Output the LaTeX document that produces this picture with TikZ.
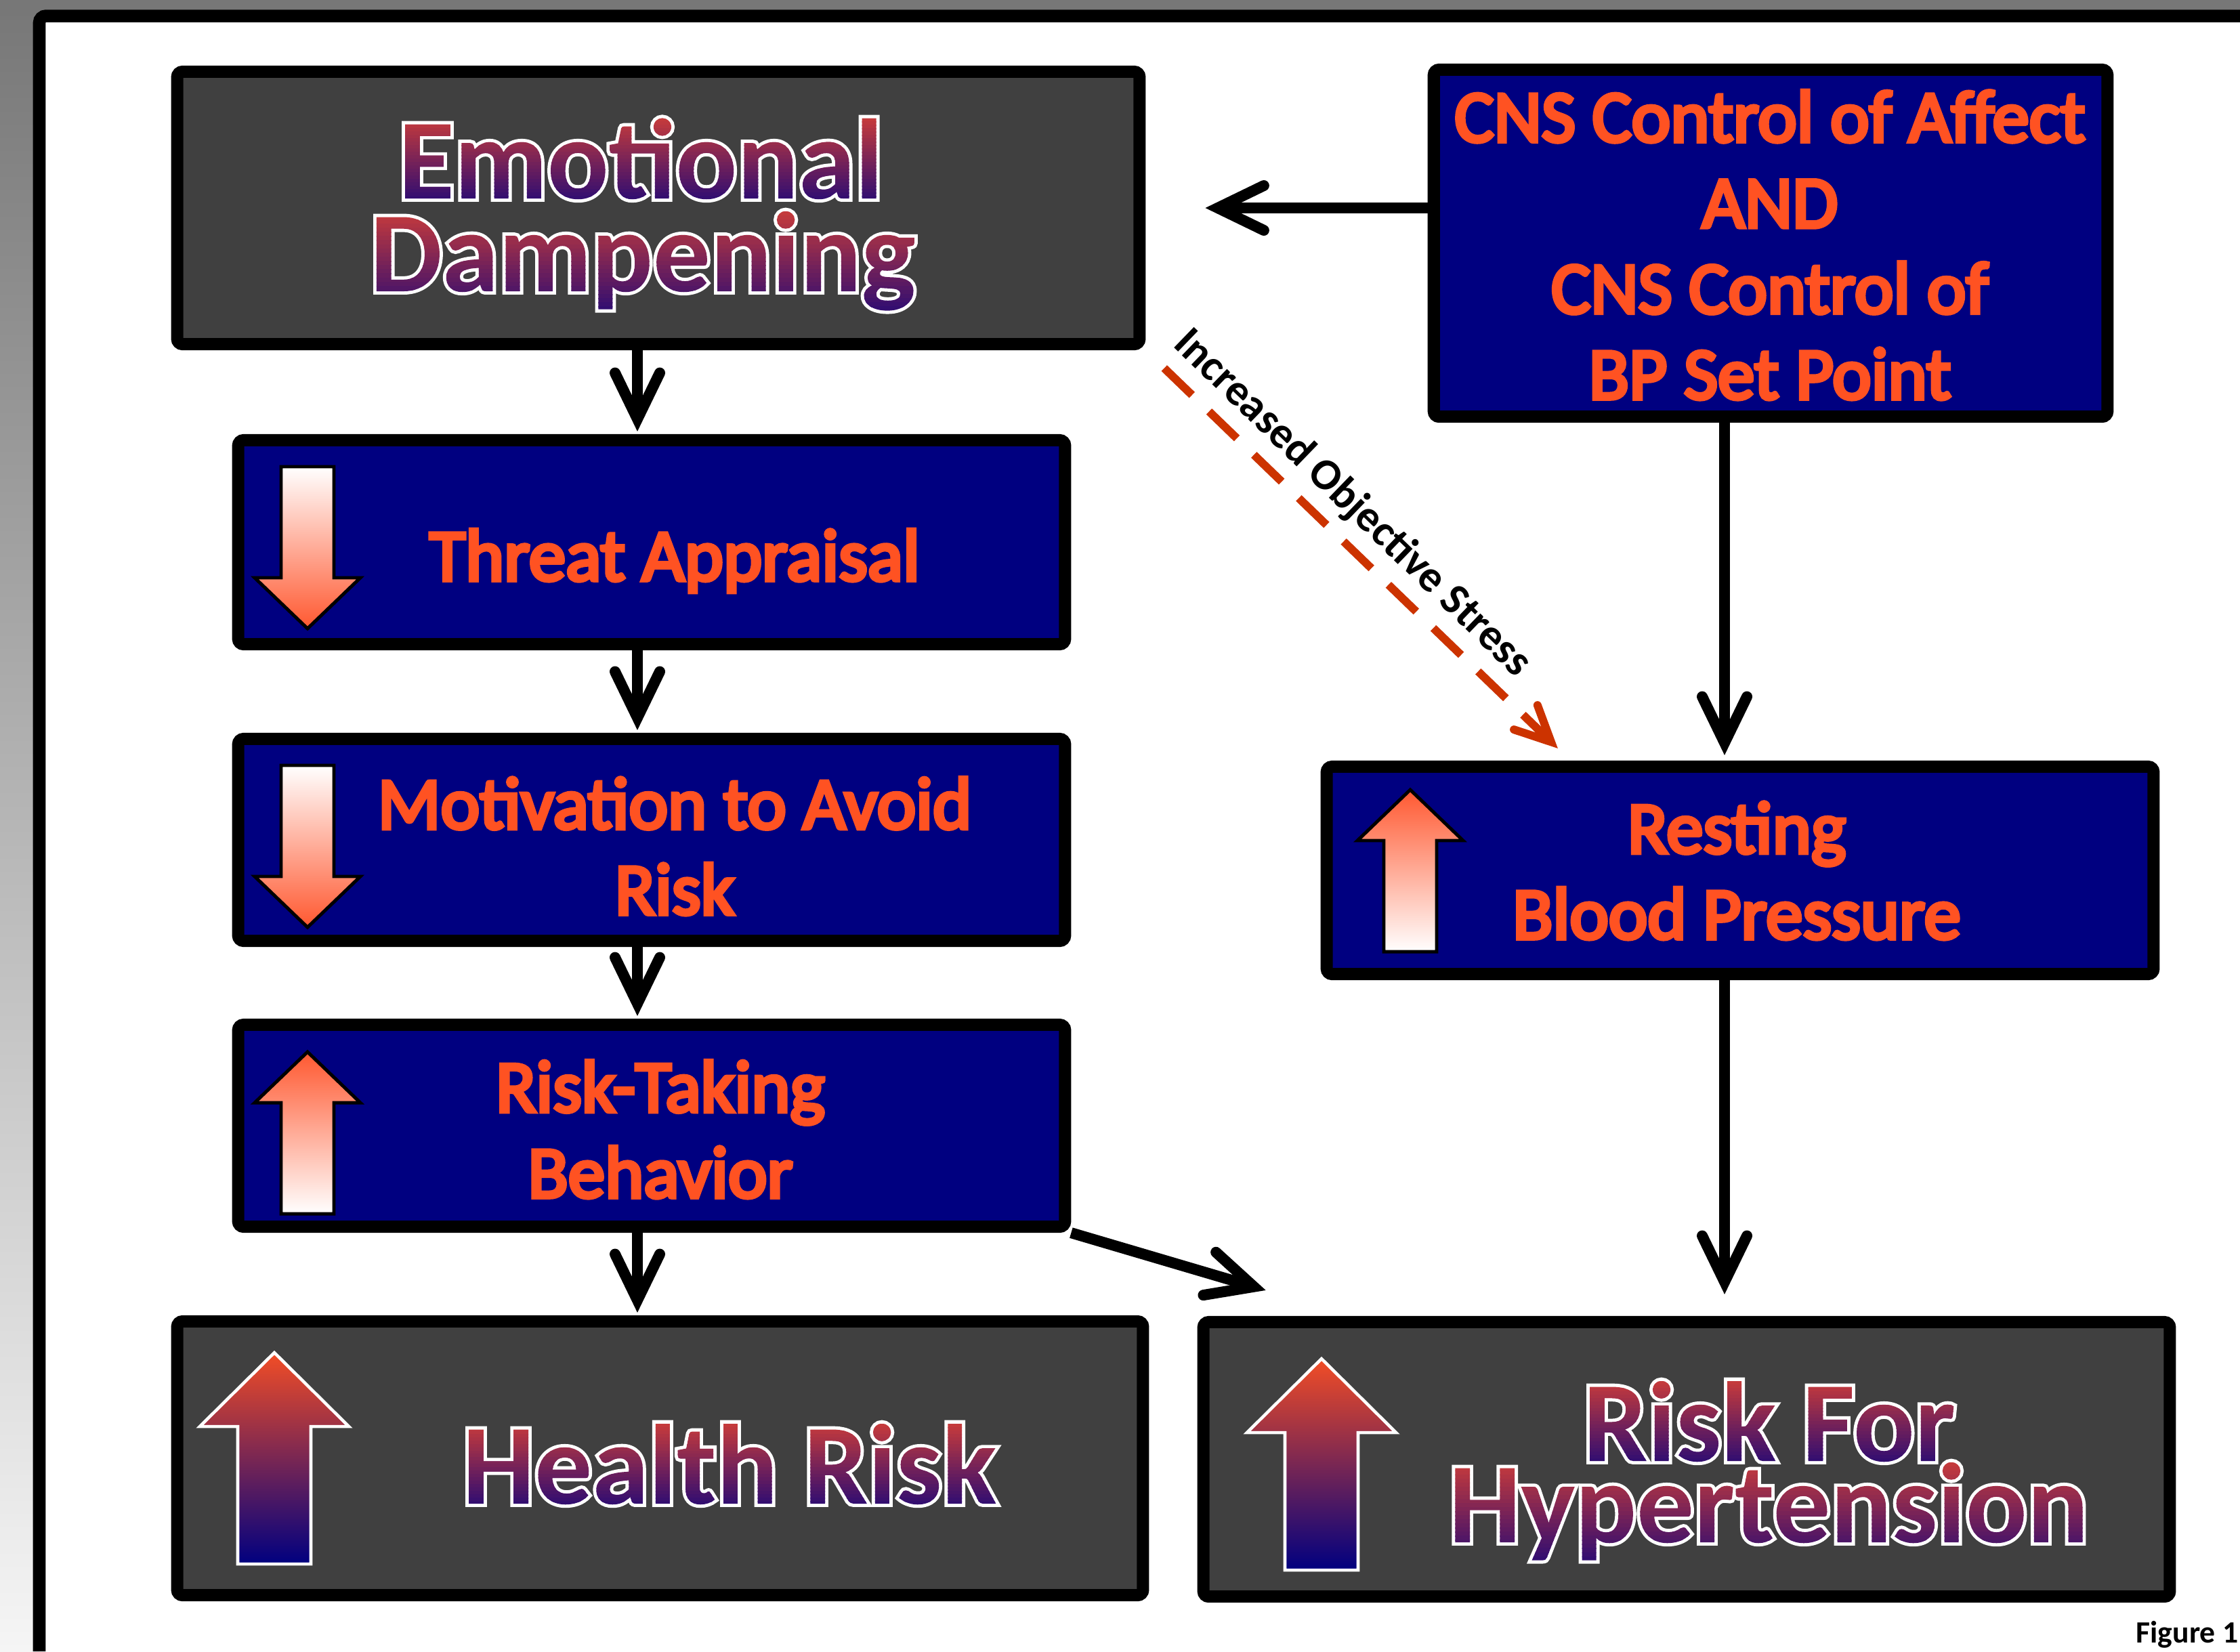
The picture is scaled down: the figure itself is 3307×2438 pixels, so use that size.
\documentclass[tikz,border=0pt]{standalone}
\usepackage{fontspec}
\setmainfont{Carlito}
\usetikzlibrary{arrows.meta,positioning,calc}
\definecolor{navy}{RGB}{0,0,128}
\definecolor{slate}{RGB}{64,64,64}
\definecolor{hot}{RGB}{255,82,34}
\definecolor{glow}{RGB}{255,88,48}
\definecolor{gtop}{RGB}{196,58,60}
\definecolor{gbot}{RGB}{52,14,112}
\definecolor{atop}{RGB}{242,77,38}
\definecolor{rust}{RGB}{204,51,0}
\definecolor{rim}{RGB}{119,119,119}
\definecolor{rimlight}{RGB}{245,245,245}
\newcommand{\gfont}{\bfseries\fontsize{48}{48}\selectfont}
\tikzset{
  box/.style={draw=black,line width=0.18cm,rounded corners=0.08cm,inner sep=0pt},
  navybox/.style={box,fill=navy},
  slatebox/.style={box,fill=slate},
  otxt/.style={font=\fontsize{31}{36}\selectfont,text=hot,align=center,inner sep=0pt},
  gtxt/.style={font=\gfont,text=white,inner sep=0pt},
  arr/.style={line width=0.16cm,-{Straight Barb[length=0.68cm,width=0.66cm,line cap=round]}},
  stress/.style={line width=0.12cm,rust,dash pattern=on 0.57cm off 0.35cm,
    -{Straight Barb[length=0.52cm,width=0.5cm,line cap=round]}},
}
% glyphs are stroked in the rim colour and clip what is laid over them
\newsavebox\gbox
\newcommand{\rimword}[4]{\sbox\gbox{#4}%
  \special{pdf:bcolor [#1]}\special{pdf:literal direct q 6 Tr #2 w}\usebox\gbox
  \special{pdf:literal 0 Tr}\llap{#3\kern-3pt}\special{pdf:literal direct Q}\special{pdf:ecolor}}
\newcommand{\hotfill}{\color{hot}\vrule width\dimexpr\wd\gbox+6pt\relax
  height\dimexpr\ht\gbox+2pt\relax depth\dimexpr\dp\gbox+2pt\relax}
\newcommand{\gstripes}{%
  \lower\dp\gbox\vbox{\offinterlineskip
    \foreach \i in {0,...,23}{\pgfmathsetmacro\gp{100-\i*100/23}%
      \hbox{\color{gtop!\gp!gbot}\vrule width\dimexpr\wd\gbox+6pt\relax
        height\dimexpr(\ht\gbox+\dp\gbox)/24+0.4pt\relax depth0pt}\kern-0.4pt}}}
% orange words with a thin black rim, gradient words with a white rim
\newcommand{\ot}[1]{\rimword{0 0 0}{1.6}{\hotfill}{#1}}
\newcommand{\gword}[1]{\rimword{1 1 1}{2.8}{\gstripes}{#1}}
% small arrows: x of tip, top y / tip y
\newcommand{\dnarr}[2]{%
  \shadedraw[top color=white,bottom color=glow,draw=black,line width=1.4pt]
    (#1-39,#2) -- ++(78,0) -- ++(0,164) -- ++(39,0) -- ++(-78,75) -- ++(-78,-75) -- ++(39,0) -- cycle;}
\newcommand{\uparr}[2]{%
  \shadedraw[top color=glow,bottom color=white,draw=black,line width=1.4pt]
    (#1,#2) -- ++(78,75) -- ++(-39,0) -- ++(0,164) -- ++(-78,0) -- ++(0,-164) -- ++(-39,0) -- cycle;}
\newcommand{\bigarr}[2]{%
  \shadedraw[top color=atop,bottom color=navy,draw=white,line width=1.3pt]
    (#1,#2) -- ++(110,109) -- ++(-56,0) -- ++(0,203) -- ++(-108,0) -- ++(0,-203) -- ++(-56,0) -- cycle;}

\begin{document}
\begin{tikzpicture}[x=0.01cm,y=-0.01cm]
\useasboundingbox (0,0) rectangle (3307,2438);
% page rim
\shade[top color=rim,bottom color=rimlight] (0,0) rectangle (58,2438);
\fill[rim] (0,0) rectangle (3307,24);
\fill[white] (58,24) rectangle (3307,2438);
\draw[line width=0.185cm,rounded corners=0.1cm] (58,2438) -- (58,23.5) -- (3307,23.5);

% boxes
\node[slatebox,minimum width=14.20cm,minimum height=4.02cm] (ed) at (972,307) {};
\node[navybox,minimum width=9.94cm,minimum height=5.12cm] (cns) at (2614,359) {};
\node[navybox,minimum width=12.20cm,minimum height=3.01cm] (threat) at (962,800.5) {};
\node[navybox,minimum width=12.20cm,minimum height=2.98cm] (motiv) at (962,1240) {};
\node[navybox,minimum width=12.20cm,minimum height=2.98cm] (risky) at (962,1662) {};
\node[slatebox,minimum width=14.25cm,minimum height=4.04cm] (health) at (974.5,2153) {};
\node[navybox,minimum width=12.20cm,minimum height=3.06cm] (bp) at (2569,1285) {};
\node[slatebox,minimum width=14.26cm,minimum height=4.05cm] (hyp) at (2490,2154.5) {};

% icons
\dnarr{454}{689}
\dnarr{454}{1130}
\uparr{454}{1553}
\uparr{2082}{1166}
\bigarr{405}{1997}
\bigarr{1951}{2006}

% texts
\node[gtxt,anchor=base] (gemo) at (946,293) {\gword{Emotional}};
\node[gtxt,anchor=base] (gdamp) at (949,430) {\gword{Dampening}};
\node[gtxt,anchor=base] (ghealth) at (1077,2220) {\gword{Health Risk}};
\node[gtxt,anchor=base] (griskfor) at (2612,2157) {\gword{Risk For}};
\node[gtxt,anchor=base] (ghyper) at (2611,2277) {\gword{Hypertension}};
\node[otxt,anchor=base] (tthreat) at (996,857) {\ot{Threat Appraisal}};
\node[otxt,anchor=base] (tmotiv) at (996,1350) {\ot{Motivation to Avoid}\\\ot{Risk}};
\node[otxt,anchor=base] (trisky) at (975,1768) {\ot{Risk-Taking}\\\ot{Behavior}};
\node[otxt,anchor=base] (tcns) at (2613,589) {\ot{CNS Control of Affect}\\\ot{AND}\\\ot{CNS Control of}\\\ot{BP Set Point}};
\node[otxt,anchor=base] (tbp) at (2564,1386) {\ot{Resting}\\\ot{Blood Pressure}};
\node[font=\bfseries\fontsize{13}{13}\selectfont,anchor=base east,inner sep=0pt] (fig) at (3305,2425) {Figure 1};

% connectors
\coordinate (lcol) at (941,0);
\coordinate (rcol) at (2546,0);
\foreach \a/\b in {ed/threat,threat/motiv,motiv/risky,risky/health}{
  \draw[arr,shorten >=0.04cm] (\a.south -| lcol) -- (\b.north -| lcol);}
\draw[arr,shorten >=0.88cm] (cns.west |- ed.east) -- (ed.east);
\draw[arr,shorten >=0.08cm] (cns.south -| rcol) -- (bp.north -| rcol);
\draw[arr,shorten >=0.32cm] (bp.south -| rcol) -- (hyp.north -| rcol);
\draw[arr] (risky.south east) -- ([xshift=1.01cm,yshift=0.38cm]hyp.north west);
\draw[stress,shorten <=0.38cm] (ed.south east) -- node[pos=0.445,sloped,above=0.03cm,text=black,
  font=\bfseries\fontsize{18.5}{18.5}\selectfont] (stresslbl) {Increased Objective Stress}
  ([xshift=3.50cm,yshift=0.18cm]bp.north west);
\end{tikzpicture}
\end{document}
